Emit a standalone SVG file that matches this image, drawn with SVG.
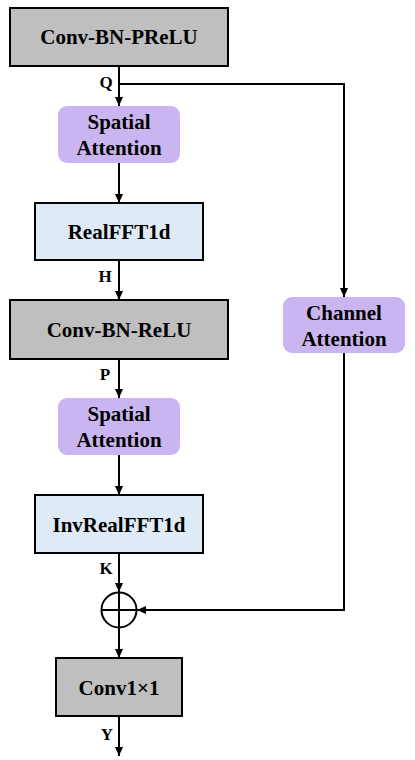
<svg xmlns="http://www.w3.org/2000/svg" width="415" height="760" viewBox="0 0 415 760">
<style>
.gray{fill:#bfbfbf;stroke:#000;stroke-width:2}
.blue{fill:#deeaf6;stroke:#000;stroke-width:2}
.purple{fill:#c9b5ef;stroke:none}
.t{font-family:"Liberation Serif","Times New Roman",serif;font-weight:bold;font-size:21px;fill:#000;text-anchor:middle}
.l{font-family:"Liberation Serif","Times New Roman",serif;font-weight:bold;font-size:17px;fill:#000;text-anchor:middle}
.c{fill:none;stroke:#000;stroke-width:2}
</style>
<defs>
<marker id="ah" markerWidth="10" markerHeight="10" refX="9" refY="5" orient="auto" markerUnits="userSpaceOnUse">
<path d="M0,1 L9,5 L0,9 Z" fill="#000"/>
</marker>
</defs>
<rect width="415" height="760" fill="#fff"/>
<g id="connectors">
<line class="c" x1="119" y1="66" x2="119" y2="106" marker-end="url(#ah)"/>
<polyline class="c" points="119,84 344,84 344,297" marker-end="url(#ah)"/>
<line class="c" x1="119" y1="163" x2="119" y2="203" marker-end="url(#ah)"/>
<line class="c" x1="119" y1="260" x2="119" y2="300" marker-end="url(#ah)"/>
<line class="c" x1="119" y1="359" x2="119" y2="398" marker-end="url(#ah)"/>
<line class="c" x1="119" y1="455" x2="119" y2="495" marker-end="url(#ah)"/>
<line class="c" x1="119" y1="553" x2="119" y2="592" marker-end="url(#ah)"/>
<polyline class="c" points="344,353 344,610 137,610" marker-end="url(#ah)"/>
<line class="c" x1="119" y1="628" x2="119" y2="658" marker-end="url(#ah)"/>
<line class="c" x1="119" y1="716" x2="119" y2="756" marker-end="url(#ah)"/>
<text class="l" x="106" y="88">Q</text>
<text class="l" x="105" y="282">H</text>
<text class="l" x="105" y="380">P</text>
<text class="l" x="106" y="574">K</text>
<text class="l" x="107" y="740">Y</text>
</g>
<g id="conv-bn-prelu">
<rect class="gray" x="10" y="8" width="218" height="58"/>
<text class="t" x="119" y="44">Conv-BN-PReLU</text>
</g>
<g id="spatial-attention-1">
<rect class="purple" x="58" y="106" width="122" height="57" rx="9"/>
<text class="t" x="119" y="129">Spatial</text>
<text class="t" x="119" y="155">Attention</text>
</g>
<g id="realfft1d">
<rect class="blue" x="35" y="203" width="168" height="57"/>
<text class="t" x="119" y="239">RealFFT1d</text>
</g>
<g id="conv-bn-relu">
<rect class="gray" x="10" y="300" width="218" height="59"/>
<text class="t" x="119" y="337">Conv-BN-ReLU</text>
</g>
<g id="spatial-attention-2">
<rect class="purple" x="58" y="398" width="122" height="57" rx="9"/>
<text class="t" x="119" y="421">Spatial</text>
<text class="t" x="119" y="447">Attention</text>
</g>
<g id="invrealfft1d">
<rect class="blue" x="35" y="495" width="168" height="58"/>
<text class="t" x="119" y="532">InvRealFFT1d</text>
</g>
<g id="channel-attention">
<rect class="purple" x="283" y="297" width="122" height="56" rx="9"/>
<text class="t" x="344" y="320">Channel</text>
<text class="t" x="344" y="346">Attention</text>
</g>
<g id="add">
<circle cx="119" cy="610" r="17.5" fill="#fff" stroke="#000" stroke-width="2"/>
<line x1="101.5" y1="610" x2="136.5" y2="610" stroke="#000" stroke-width="2"/>
<line x1="119" y1="592.5" x2="119" y2="627.5" stroke="#000" stroke-width="2"/>
</g>
<g id="conv1x1">
<rect class="gray" x="56" y="658" width="126" height="58"/>
<text class="t" x="119" y="695">Conv1×1</text>
</g>
</svg>
